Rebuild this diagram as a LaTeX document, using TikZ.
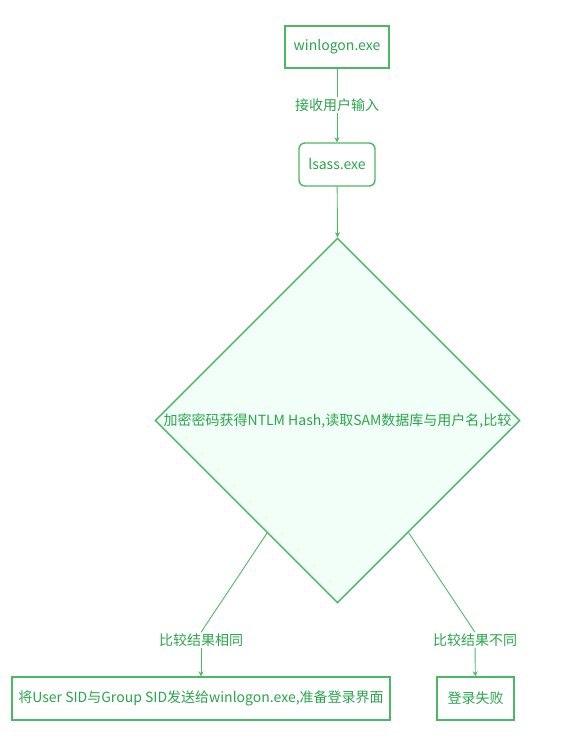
\documentclass[tikz,border=0pt]{standalone}
\usepackage{fontspec}
\setmainfont{Noto Sans CJK SC}
\usetikzlibrary{shapes.geometric,arrows.meta,calc}
\definecolor{gline}{HTML}{4CB864}
\definecolor{gtext}{HTML}{2BA54B}
\definecolor{gfill}{HTML}{F2FFF8}
\begin{document}
\begin{tikzpicture}[x=1pt,y=-1pt,
  every node/.style={font=\fontsize{14}{16}\selectfont, text=gtext},
  box/.style={draw=gline, line width=1.4pt, fill=white, inner sep=0pt},
  lab/.style={fill=white, inner sep=1pt},
  conn/.style={draw=gline, line width=0.9pt},
  arr/.style={conn, -{Stealth[length=5pt,width=5pt]}}]
\useasboundingbox (0,0) rectangle (565,739);
\node[box, minimum width=104pt, minimum height=42pt] (win) at (337,47) {winlogon.exe};
\node[box, rounded corners=6pt, minimum width=76pt, minimum height=43pt] (lsass) at (337,164.5) {lsass.exe};
\node[diamond, draw=gline, line width=1.4pt, fill=gfill, minimum width=365pt, minimum height=365pt, inner sep=0pt] (d) at (337.5,420.5) {};
\node (dt) at (d.center) {加密密码获得NTLM Hash,读取SAM数据库与用户名,比较};
\node[box, minimum width=378pt, minimum height=43pt] (ok) at (201,698.5) {将User SID与Group SID发送给winlogon.exe,准备登录界面};
\node[box, minimum width=77pt, minimum height=43pt] (fail) at (475.5,698.5) {登录失败};
\node[lab] (l1) at (337,105) {接收用户输入};
\node[lab] (l2) at (201,640) {比较结果相同};
\node[lab] (l3) at (475,640) {比较结果不同};
\coordinate (dl) at ($(d.west)!0.615!(d.south)$);
\coordinate (dr) at ($(d.east)!0.612!(d.south)$);
\draw[conn] (win) -- (l1);
\draw[arr] (l1) -- (lsass);
\draw[arr] (lsass) -- (d.north);
\draw[conn] (dl) -- (l2.north);
\draw[arr] (l2) -- (ok);
\draw[conn] (dr) -- (l3.north);
\draw[arr] (l3) -- (fail);
\end{tikzpicture}
\end{document}
